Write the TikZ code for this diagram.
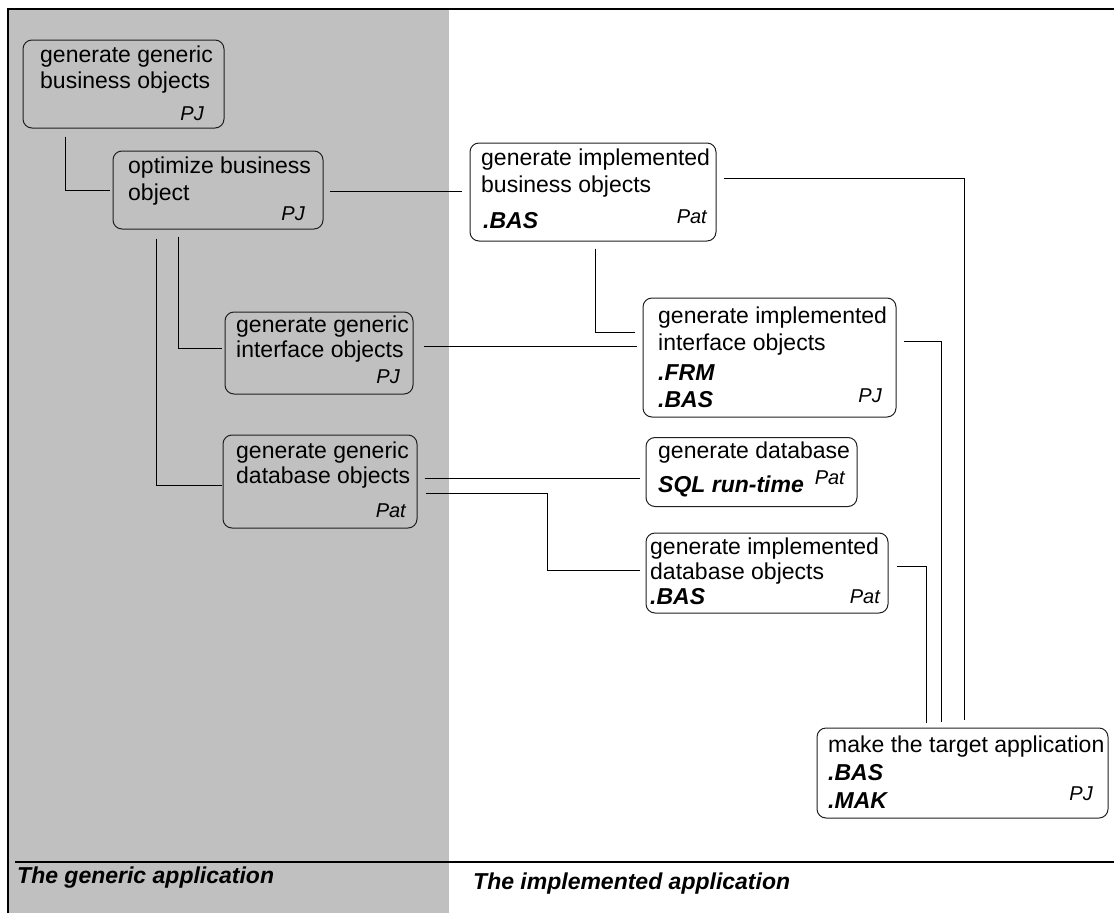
\documentclass[tikz,border=0pt]{standalone}
\usepackage{fontspec}
\setmainfont{Liberation Sans}
\definecolor{panel}{HTML}{C0C0C0}
\definecolor{edge}{HTML}{202020}
\begin{document}
\begin{tikzpicture}[x=1pt,y=-1pt,
  box/.style={draw=edge, line width=1pt, rounded corners=9pt, inner sep=0pt},
  txt/.style={anchor=base west, inner sep=0pt, font=\fontsize{23}{26}\selectfont},
  bld/.style={anchor=base west, inner sep=0pt, font=\fontsize{23}{26}\selectfont\bfseries\itshape},
  who/.style={anchor=base east, inner sep=0pt, font=\fontsize{20}{24}\selectfont\itshape},
  conn/.style={draw=black, line width=1pt}]
\useasboundingbox (0,0) rectangle (1114,913);
% background panel and frame
\fill[panel] (9,10) rectangle (449,913);
\draw[line width=1.5pt] (1114,9) -- (8,9) -- (8,913);
\draw[line width=1.2pt] (15,862) -- (1114,862);
% boxes
\node[box, minimum width=201pt, minimum height=88pt] (A) at (123.5,84) {};
\node[box, minimum width=210pt, minimum height=78pt] (B) at (218,190) {};
\node[box, minimum width=246pt, minimum height=98pt] (C) at (593,192) {};
\node[box, minimum width=188pt, minimum height=82pt] (D) at (319,353) {};
\node[box, minimum width=253pt, minimum height=119pt] (E) at (769.5,357.5) {};
\node[box, minimum width=194pt, minimum height=93pt] (F) at (320,481.5) {};
\node[box, minimum width=211pt, minimum height=69pt] (G) at (751.5,472) {};
\node[box, minimum width=242pt, minimum height=80pt] (H) at (767,573) {};
\node[box, minimum width=291pt, minimum height=90pt] (I) at (962.5,773) {};
% texts
\node[txt] (a1) at (40,62) {generate generic};
\node[txt] (a2) at (40,88) {business objects};
\node[who] (a3) at (204,120) {PJ};
\node[txt] (b1) at (128,173) {optimize business};
\node[txt] (b2) at (128,200) {object};
\node[who] (b3) at (305,220) {PJ};
\node[txt] (c1) at (481,165) {generate implemented};
\node[txt] (c2) at (481,192) {business objects};
\node[bld] (c3) at (483,228) {.BAS};
\node[who] (c4) at (707,223) {Pat};
\node[txt] (d1) at (236,332) {generate generic};
\node[txt] (d2) at (236,357) {interface objects};
\node[who] (d3) at (400,383) {PJ};
\node[txt] (e1) at (658,323) {generate implemented};
\node[txt] (e2) at (658,350) {interface objects};
\node[bld] (e3) at (658,380) {.FRM};
\node[bld] (e4) at (658,407) {.BAS};
\node[who] (e5) at (882,402) {PJ};
\node[txt] (f1) at (236,458) {generate generic};
\node[txt] (f2) at (236,483) {database objects};
\node[who] (f3) at (406,517) {Pat};
\node[txt] (g1) at (658,458) {generate database};
\node[bld] (g2) at (658,492) {SQL run-time};
\node[who] (g3) at (845,484) {Pat};
\node[txt] (h1) at (650,554) {generate implemented};
\node[txt] (h2) at (650,579) {database objects};
\node[bld] (h3) at (650,604) {.BAS};
\node[who] (h4) at (880,603) {Pat};
\node[txt] (i1) at (828,752) {make the target application};
\node[bld] (i2) at (828,780) {.BAS};
\node[bld] (i3) at (828,808) {.MAK};
\node[who] (i4) at (1093,800) {PJ};
% footer labels
\node[bld] (gen) at (17,883) {The generic application};
\node[bld] (impl) at (473,889) {The implemented application};
% connectors
\draw[conn] ([xshift=-58.5pt,yshift=-8pt]A.south) |- ([xshift=-3pt]B.west);
\draw[conn] ([xshift=6pt,yshift=-1pt]B.east) -- ([xshift=-8pt,yshift=1pt]C.west);
\draw[conn] ([xshift=-40pt,yshift=-7pt]B.south) |- ([xshift=-3pt,yshift=5pt]D.west);
\draw[conn] ([xshift=-62pt,yshift=-9pt]B.south) |- ([xshift=-1pt,yshift=-3.5pt]F.west);
\draw[conn] ([xshift=2pt,yshift=-7pt]C.south) |- ([xshift=-8pt,yshift=25.5pt]E.west);
\draw[conn] ([xshift=10pt,yshift=7pt]D.east) -- ([xshift=-6pt,yshift=11.5pt]E.west);
\draw[conn] ([xshift=7pt,yshift=3.5pt]F.east) -- ([xshift=-6pt,yshift=-6pt]G.west);
\draw[conn] ([xshift=8pt,yshift=-11.5pt]F.east) -- ++(122pt,0pt) |- ([xshift=-6pt,yshift=3pt]H.west);
\draw[conn] ([xshift=7pt,yshift=14pt]C.east) -| ([xshift=1.5pt,yshift=8pt]I.north);
\draw[conn] ([xshift=7pt,yshift=16.5pt]E.east) -| ([xshift=-21.5pt,yshift=6pt]I.north);
\draw[conn] ([xshift=8pt,yshift=7pt]H.east) -| ([xshift=-36.5pt,yshift=5pt]I.north);
\end{tikzpicture}
\end{document}
